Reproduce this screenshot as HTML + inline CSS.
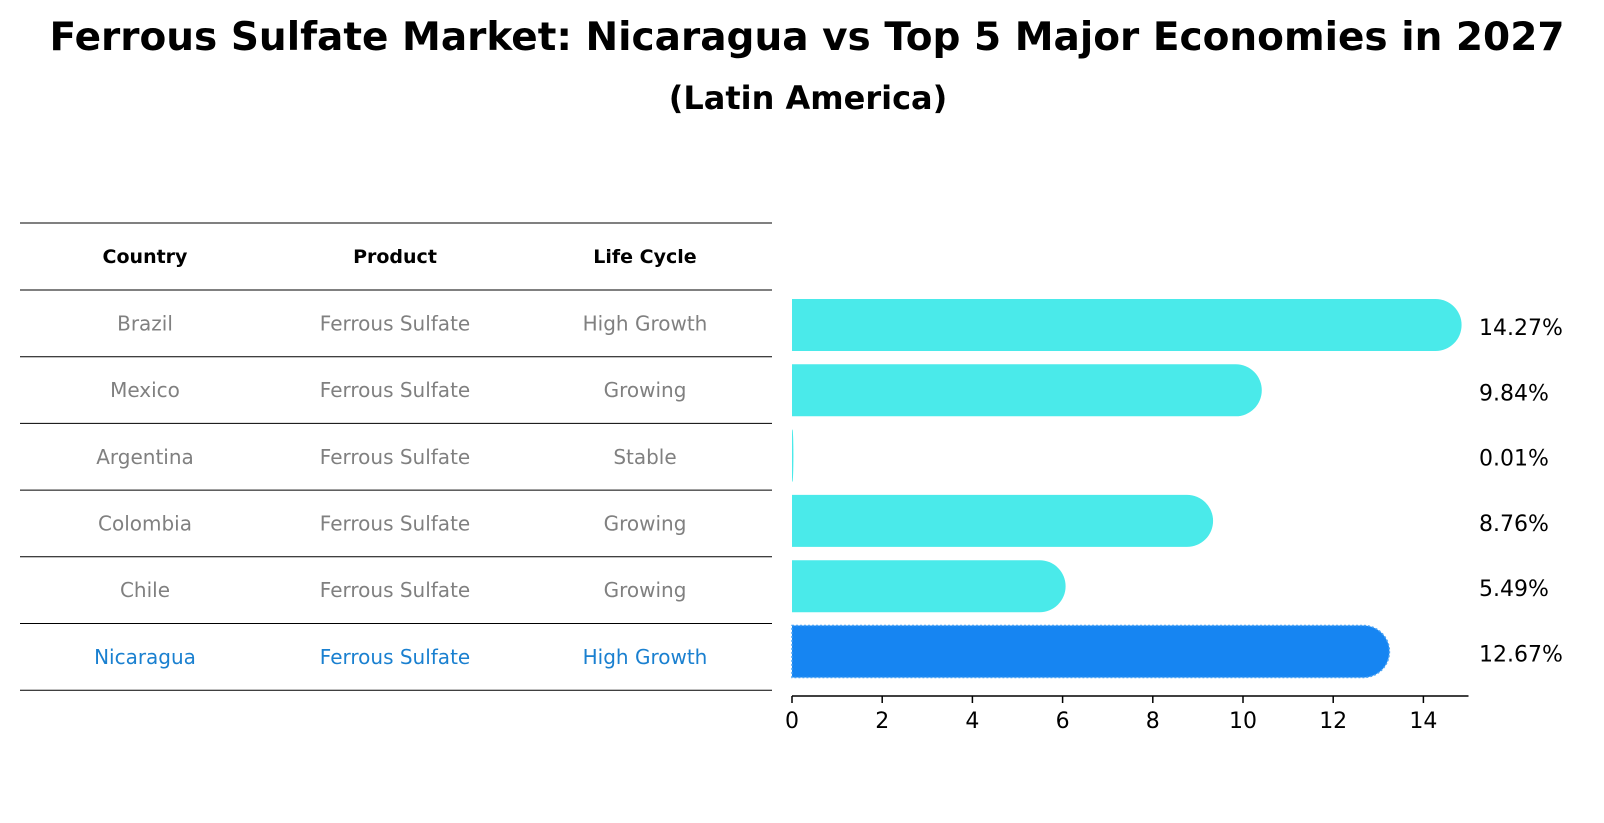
<!DOCTYPE html>
<html><head><meta charset="utf-8">
<style>
body{margin:0;background:#fff;font-family:"DejaVu Sans","Liberation Sans",sans-serif;}
#wrap{position:relative;width:1604px;height:823px;overflow:hidden;}
</style></head>
<body>
<div id="wrap">
<svg id="svg" width="1604" height="823" xmlns="http://www.w3.org/2000/svg" font-family="DejaVu Sans, Liberation Sans, sans-serif">
<text x="807" y="50" text-anchor="middle" font-size="39" font-weight="bold">Ferrous Sulfate Market: Nicaragua vs Top 5 Major Economies in 2027</text>
<text x="808" y="109" text-anchor="middle" font-size="32" font-weight="bold">(Latin America)</text>
<g id="table"></g>
<g id="bars"></g>
<g id="axis"></g>
</svg>
</div>
<script>
const countries=["Brazil","Mexico","Argentina","Colombia","Chile","Nicaragua"];
const products=["Ferrous Sulfate","Ferrous Sulfate","Ferrous Sulfate","Ferrous Sulfate","Ferrous Sulfate","Ferrous Sulfate"];
const lifeCycles=["High Growth","Growing","Stable","Growing","Growing","High Growth"];
const values=[14.27,9.84,0.01,8.76,5.49,12.67];
const valueLabels=["14.27%","9.84%","0.01%","8.76%","5.49%","12.67%"];
const ticks=[0,2,4,6,8,10,12,14];
const highlight="Nicaragua";

const NS="http://www.w3.org/2000/svg";
const x0=792, scale=45.1, axisMax=15, axisY=696;
const barTop0=325, barStep=65.3, barH=52;
const tTop=223, tRow0=290, tRowH=66.7;
function xs(v){return x0+v*scale;}
function yb(i){return barTop0+barStep*i;}
function yt(i){return tRow0+tRowH*i+tRowH/2;}
function mk(tag,attrs,parent){const e=document.createElementNS(NS,tag);for(const k in attrs)e.setAttribute(k,attrs[k]);parent.appendChild(e);return e;}

const tbl=document.getElementById('table');
const colX=[145,395,645];
let hl=mk('line',{x1:20,x2:772,y1:tTop,y2:tTop,stroke:'#000','stroke-width':1},tbl);


["Country","Product","Life Cycle"].forEach((h,j)=>{
  const t=mk('text',{x:colX[j],y:263,'text-anchor':'middle','font-size':19,'font-weight':'bold'},tbl);
  t.textContent=h;
  
  
});
for(let i=0;i<=countries.length;i++){
  const l=mk('line',{x1:20,x2:772,y1:tRow0+tRowH*i,y2:tRow0+tRowH*i,stroke:'#000','stroke-width':1},tbl);
  
  
}
countries.forEach((c,i)=>{
  const col=c===highlight?'#1a80d0':'#808080';
  [c,products[i],lifeCycles[i]].forEach((s,j)=>{
    const t=mk('text',{x:colX[j],y:yt(i)+7,'text-anchor':'middle','font-size':20,fill:col},tbl);
    t.textContent=s;
    
    
  });
});

const bars=document.getElementById('bars');
values.forEach((v,i)=>{
  const w=v*scale, r=Math.min(barH/2,w+0.5);
  const isH=countries[i]===highlight;
  const col=isH?'#1685f2':'#4aeaea';
  const y=yb(i)-barH/2, xe=xs(v);
  const d=`M${x0},${y} H${xe} A${r},${barH/2} 0 0 1 ${xe},${y+barH} H${x0} Z`;
  const p=mk('path',{d:d,fill:col},bars);
  if(isH){p.setAttribute('stroke','#4aa3f5');p.setAttribute('stroke-width','1.5');p.setAttribute('stroke-dasharray','2,2');}
  
  
  const t=mk('text',{x:1479,y:yb(i)+10,'font-size':22,fill:'#000'},bars);
  t.textContent=valueLabels[i];
  
  
});

const ax=document.getElementById('axis');
const al=mk('line',{x1:x0,x2:xs(axisMax),y1:axisY,y2:axisY,stroke:'#000','stroke-width':1.5},ax);


ticks.forEach(tv=>{
  const tl=mk('line',{x1:xs(tv),x2:xs(tv),y1:axisY,y2:axisY+7,stroke:'#000','stroke-width':1.5},ax);
  
  
  const t=mk('text',{x:xs(tv),y:axisY+32,'text-anchor':'middle','font-size':22},ax);
  t.textContent=tv;
  
  
});
</script>
</body></html>
